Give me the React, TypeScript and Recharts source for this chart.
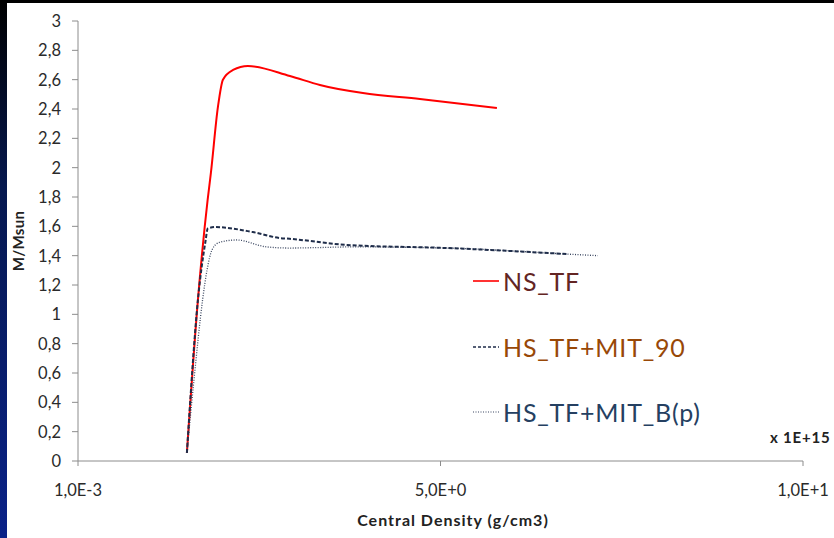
import React from 'react';
import { LineChart, Line, XAxis, YAxis } from 'recharts';

// Central density (x 1E+15 g/cm3) vs. mass (M/Msun) for each equation of state
const nsTF = [
  { x: 1.503, y: 0.055 },
  { x: 1.655, y: 1.098 },
  { x: 1.789, y: 1.78 },
  { x: 1.834, y: 1.964 },
  { x: 1.931, y: 2.414 },
  { x: 2.0, y: 2.6 },
  { x: 2.14, y: 2.666 },
  { x: 2.345, y: 2.693 },
  { x: 2.924, y: 2.625 },
  { x: 3.338, y: 2.564 },
  { x: 3.931, y: 2.509 },
  { x: 4.717, y: 2.468 },
  { x: 5.779, y: 2.407 },
];

const hsMit90 = [
  { x: 1.503, y: 0.055 },
  { x: 1.655, y: 1.098 },
  { x: 1.76, y: 1.5 },
  { x: 1.79, y: 1.585 },
  { x: 1.89, y: 1.595 },
  { x: 2.41, y: 1.561 },
  { x: 2.79, y: 1.52 },
  { x: 2.92, y: 1.515 },
  { x: 3.71, y: 1.473 },
  { x: 5.09, y: 1.452 },
  { x: 6.74, y: 1.411 },
];

const hsMitBp = [
  { x: 1.503, y: 0.055 },
  { x: 1.6, y: 0.55 },
  { x: 1.72, y: 1.1 },
  { x: 1.78, y: 1.3 },
  { x: 1.85, y: 1.44 },
  { x: 1.95, y: 1.49 },
  { x: 2.19, y: 1.507 },
  { x: 2.6, y: 1.46 },
  { x: 2.92, y: 1.452 },
  { x: 3.3, y: 1.455 },
  { x: 3.8, y: 1.46 },
  { x: 5.09, y: 1.452 },
  { x: 6.74, y: 1.411 },
  { x: 7.17, y: 1.4 },
];

const yTicks = [0, 0.2, 0.4, 0.6, 0.8, 1, 1.2, 1.4, 1.6, 1.8, 2, 2.2, 2.4, 2.6, 2.8, 3];
const xTicks = [0.001, 5.001, 10.001];

const seriesNames = ['NS_TF', 'HS_TF+MIT_90', 'HS_TF+MIT_B(p)'];

const FONT = 'Lato, "Noto Sans", sans-serif';
const AXIS_GREY = '#8c8c8c';

const fmtY = (v: number) => String(Math.round(v * 10) / 10).replace('.', ',');
const fmtX = (v: number) => v.toExponential(1).toUpperCase().replace('.', ',');

const legendRows = [
  { name: seriesNames[0], color: '#632523', stroke: '#ff3333', dash: undefined, width: 2, y: 281 },
  { name: seriesNames[1], color: '#984807', stroke: '#1f2d4a', dash: '3 2', width: 1.5, y: 347 },
  { name: seriesNames[2], color: '#254061', stroke: '#3a4660', dash: '1 1.5', width: 1.2, y: 412 },
];

export default function App() {
  return (
    <div
      style={{
        position: 'absolute',
        left: 0,
        top: 0,
        width: 834,
        height: 538,
        background: '#ffffff',
        overflow: 'hidden',
        fontFamily: FONT,
      }}
    >
      {/* frame strips */}
      <div style={{ position: 'absolute', left: 0, top: 0, width: 834, height: 3, background: '#000' }} />
      <div
        style={{
          position: 'absolute',
          left: 0,
          top: 0,
          width: 7,
          height: 538,
          background: 'linear-gradient(to bottom, #000000 0%, #06184f 35%, #0a2288 100%)',
        }}
      />

      <div style={{ position: 'absolute', left: 0, top: 0 }}>
        <LineChart width={834} height={538} margin={{ top: 21, right: 31, bottom: 0, left: 0 }}>
          <XAxis
            type="number"
            dataKey="x"
            domain={[0.001, 10.001]}
            ticks={xTicks}
            tickFormatter={fmtX}
            height={77}
            tickSize={5}
            tickMargin={18}
            axisLine={{ stroke: AXIS_GREY }}
            tickLine={{ stroke: AXIS_GREY }}
            tick={{ fontFamily: FONT, fontSize: 16.5, fill: '#2a2a2a' }}
            allowDataOverflow
          />
          <YAxis
            type="number"
            dataKey="y"
            domain={[0, 3]}
            ticks={yTicks}
            tickFormatter={fmtY}
            width={78}
            tickSize={6}
            tickMargin={11}
            axisLine={{ stroke: AXIS_GREY }}
            tickLine={{ stroke: AXIS_GREY }}
            tick={{ fontFamily: FONT, fontSize: 16.5, fill: '#2a2a2a' }}
            interval={0}
          />
          <Line
            data={nsTF}
            dataKey="y"
            name={seriesNames[0]}
            type="monotone"
            stroke="#ff0000"
            strokeWidth={2}
            dot={false}
            isAnimationActive={false}
          />
          <Line
            data={hsMitBp}
            dataKey="y"
            name={seriesNames[2]}
            type="monotone"
            stroke="#3a4660"
            strokeWidth={1.3}
            strokeDasharray="1 1.5"
            dot={false}
            isAnimationActive={false}
          />
          <Line
            data={hsMit90}
            dataKey="y"
            name={seriesNames[1]}
            type="monotone"
            stroke="#1f2d4a"
            strokeWidth={2}
            strokeDasharray="4 2"
            dot={false}
            isAnimationActive={false}
          />
        </LineChart>
      </div>

      {/* axis titles */}
      <div
        style={{
          position: 'absolute',
          left: 18 - 40,
          top: 241 - 10,
          width: 80,
          height: 20,
          lineHeight: '20px',
          textAlign: 'center',
          transform: 'rotate(-90deg)',
          fontWeight: 700,
          fontSize: 15,
          letterSpacing: 0.3,
          color: '#222',
        }}
      >
        M/Msun
      </div>
      <div
        style={{
          position: 'absolute',
          left: 453 - 150,
          top: 510,
          width: 300,
          height: 20,
          lineHeight: '20px',
          textAlign: 'center',
          fontWeight: 700,
          fontSize: 16,
          letterSpacing: 1,
          color: '#222',
        }}
      >
        Central Density (g/cm3)
      </div>
      <div
        style={{
          position: 'absolute',
          left: 770,
          top: 427,
          height: 20,
          lineHeight: '20px',
          whiteSpace: 'nowrap',
          fontWeight: 700,
          fontSize: 15,
          letterSpacing: 0.8,
          color: '#222',
        }}
      >
        x 1E+15
      </div>

      {/* legend */}
      {legendRows.map((r) => (
        <div key={r.name}>
          <svg
            style={{ position: 'absolute', left: 473, top: r.y - 3 }}
            width={28}
            height={6}
          >
            <line x1={0} y1={3} x2={26} y2={3} stroke={r.stroke} strokeWidth={r.width} strokeDasharray={r.dash} />
          </svg>
          <div
            style={{
              position: 'absolute',
              left: 503,
              top: r.y - 16,
              height: 32,
              lineHeight: '32px',
              whiteSpace: 'nowrap',
              fontSize: 25,
              letterSpacing: 0.8,
              color: r.color,
            }}
          >
            {r.name}
          </div>
        </div>
      ))}
    </div>
  );
}
